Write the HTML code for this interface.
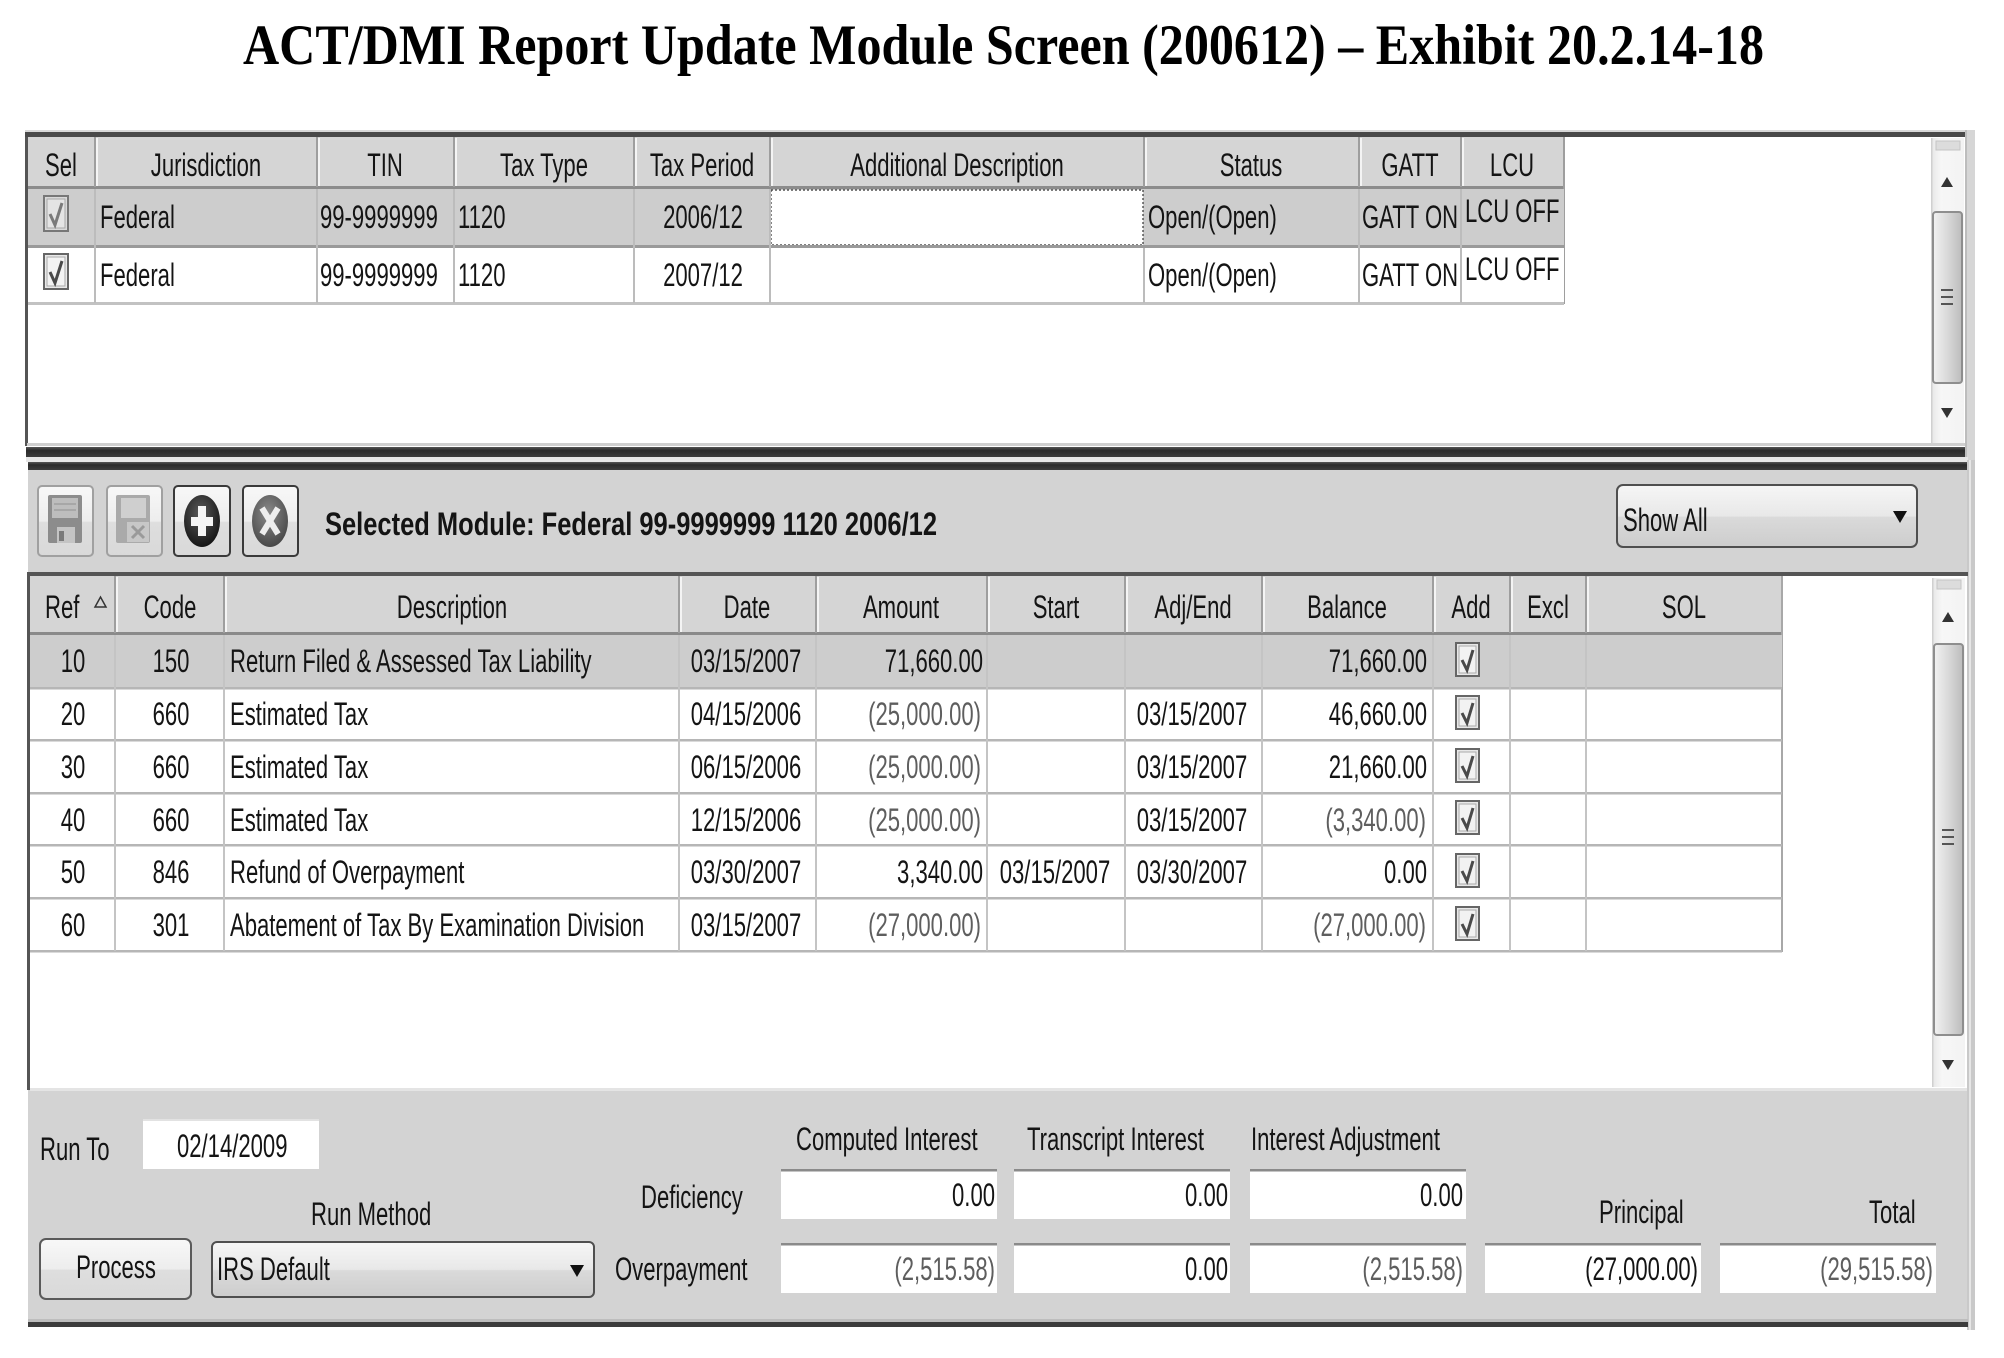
<!DOCTYPE html>
<html>
<head>
<meta charset="utf-8">
<style>
  html,body{margin:0;padding:0;background:#ffffff;}
  body{width:2004px;height:1358px;overflow:hidden;}
  svg{display:block;}
  .t{font-family:"Liberation Sans",Arial,sans-serif;font-size:32px;fill:#141414;}
  .m{text-anchor:middle;}
  .e{text-anchor:end;}
  .g{fill:#5e5e5e;}
  .b{font-weight:bold;}
  .ttl{font-family:"Liberation Serif","Times New Roman",serif;font-size:57px;font-weight:bold;fill:#000;}
</style>
</head>
<body>
<svg width="2004" height="1358" viewBox="0 0 2004 1358" xmlns="http://www.w3.org/2000/svg">
  <defs>
    <linearGradient id="btnG" x1="0" y1="0" x2="0" y2="1">
      <stop offset="0" stop-color="#f8f8f8"/>
      <stop offset="0.5" stop-color="#ededed"/>
      <stop offset="0.52" stop-color="#dedede"/>
      <stop offset="1" stop-color="#d9d9d9"/>
    </linearGradient>
    <linearGradient id="ddG" x1="0" y1="0" x2="0" y2="1">
      <stop offset="0" stop-color="#f6f6f6"/>
      <stop offset="0.5" stop-color="#e8e8e8"/>
      <stop offset="0.52" stop-color="#dadada"/>
      <stop offset="1" stop-color="#cdcdcd"/>
    </linearGradient>
    <linearGradient id="bandG" x1="0" y1="0" x2="0" y2="1">
      <stop offset="0" stop-color="#555"/>
      <stop offset="0.35" stop-color="#2a2a2a"/>
      <stop offset="1" stop-color="#3c3c3c"/>
    </linearGradient>
    <linearGradient id="thumbG" x1="0" y1="0" x2="1" y2="0">
      <stop offset="0" stop-color="#f2f2f2"/>
      <stop offset="0.5" stop-color="#d9d9d9"/>
      <stop offset="1" stop-color="#bcbcbc"/>
    </linearGradient>
    <linearGradient id="trackG" x1="0" y1="0" x2="1" y2="0">
      <stop offset="0" stop-color="#e6e6e6"/>
      <stop offset="0.3" stop-color="#f7f7f7"/>
      <stop offset="1" stop-color="#f3f3f3"/>
    </linearGradient>
    <radialGradient id="darkOval" cx="0.45" cy="0.35" r="0.7">
      <stop offset="0" stop-color="#5a5a5a"/>
      <stop offset="1" stop-color="#111"/>
    </radialGradient>
    <radialGradient id="grayOval" cx="0.45" cy="0.35" r="0.7">
      <stop offset="0" stop-color="#8a8a8a"/>
      <stop offset="1" stop-color="#444"/>
    </radialGradient>
  </defs>

  <!-- ================= TITLE ================= -->
  <text class="ttl" x="243" y="64" textLength="1521" lengthAdjust="spacingAndGlyphs">ACT/DMI Report Update Module Screen (200612) – Exhibit 20.2.14-18</text>

  <!-- ================= TOP PANEL ================= -->
  <rect x="25" y="130" width="1950" height="2" fill="#d8d8d8"/>
  <rect x="25" y="132" width="1942" height="5" fill="#4a4a4a"/>
  <rect x="25" y="137" width="3" height="309" fill="#555"/>
  <rect x="28" y="137" width="1936" height="306" fill="#ffffff"/>
  <!-- right frame strip -->
  <rect x="1965" y="130" width="10" height="332" fill="#d6d6d6"/>
  <rect x="1965" y="130" width="2" height="332" fill="#bdbdbd"/>

  <!-- header -->
  <rect x="28" y="137" width="1536" height="50" fill="#d5d5d5"/>
  <rect x="28" y="186" width="1536" height="3" fill="#8c8c8c"/>
  <g stroke-width="2">
    <line x1="95" y1="137" x2="95" y2="187" stroke="#9e9e9e"/>
    <line x1="97" y1="138" x2="97" y2="186" stroke="#f4f4f4"/>
    <line x1="317" y1="137" x2="317" y2="187" stroke="#9e9e9e"/>
    <line x1="319" y1="138" x2="319" y2="186" stroke="#f4f4f4"/>
    <line x1="454" y1="137" x2="454" y2="187" stroke="#9e9e9e"/>
    <line x1="456" y1="138" x2="456" y2="186" stroke="#f4f4f4"/>
    <line x1="634" y1="137" x2="634" y2="187" stroke="#9e9e9e"/>
    <line x1="636" y1="138" x2="636" y2="186" stroke="#f4f4f4"/>
    <line x1="770" y1="137" x2="770" y2="187" stroke="#9e9e9e"/>
    <line x1="772" y1="138" x2="772" y2="186" stroke="#f4f4f4"/>
    <line x1="1144" y1="137" x2="1144" y2="187" stroke="#9e9e9e"/>
    <line x1="1146" y1="138" x2="1146" y2="186" stroke="#f4f4f4"/>
    <line x1="1359" y1="137" x2="1359" y2="187" stroke="#9e9e9e"/>
    <line x1="1361" y1="138" x2="1361" y2="186" stroke="#f4f4f4"/>
    <line x1="1461" y1="137" x2="1461" y2="187" stroke="#9e9e9e"/>
    <line x1="1463" y1="138" x2="1463" y2="186" stroke="#f4f4f4"/>
    <line x1="1564" y1="137" x2="1564" y2="304" stroke="#9e9e9e"/>
  </g>
  <g class="t m">
    <text class="t m" transform="translate(61 176) scale(.69 1)">Sel</text>
    <text class="t m" transform="translate(206 176) scale(.69 1)">Jurisdiction</text>
    <text class="t m" transform="translate(385 176) scale(.69 1)">TIN</text>
    <text class="t m" transform="translate(544 176) scale(.69 1)">Tax Type</text>
    <text class="t m" transform="translate(702 176) scale(.69 1)">Tax Period</text>
    <text class="t m" transform="translate(957 176) scale(.69 1)">Additional Description</text>
    <text class="t m" transform="translate(1251 176) scale(.69 1)">Status</text>
    <text class="t m" transform="translate(1410 176) scale(.69 1)">GATT</text>
    <text class="t m" transform="translate(1512 176) scale(.69 1)">LCU</text>
  </g>

  <!-- row 1 (selected) -->
  <rect x="28" y="189" width="1536" height="57" fill="#cdcdcd"/>
  <rect x="771" y="190" width="372" height="55" fill="#ffffff" stroke="#333" stroke-width="1.2" stroke-dasharray="2 2"/>
  <rect x="28" y="245" width="1536" height="3" fill="#9a9a9a"/>
  <!-- row 2 -->
  <rect x="28" y="248" width="1536" height="55" fill="#ffffff"/>
  <rect x="28" y="302" width="1536" height="3" fill="#c2c2c2"/>
  <g stroke="#bcbcbc" stroke-width="2">
    <line x1="95" y1="189" x2="95" y2="303"/>
    <line x1="317" y1="189" x2="317" y2="303"/>
    <line x1="454" y1="189" x2="454" y2="303"/>
    <line x1="634" y1="189" x2="634" y2="303"/>
    <line x1="770" y1="189" x2="770" y2="303"/>
    <line x1="1144" y1="248" x2="1144" y2="303"/>
    <line x1="1359" y1="189" x2="1359" y2="303"/>
    <line x1="1461" y1="189" x2="1461" y2="303"/>
  </g>
  <!-- checkboxes top -->
  <g>
    <rect x="44" y="196" width="24" height="35" fill="#d9d9d9" stroke="#777" stroke-width="2"/>
    <rect x="47" y="199" width="18" height="29" fill="#e4e4e4" stroke="#a8a8a8" stroke-width="1"/>
    <path d="M50 214 L55 225 L62 203" stroke="#7a7a7a" stroke-width="3" fill="none"/>
    <rect x="44" y="254" width="24" height="35" fill="#e9e9e9" stroke="#666" stroke-width="2"/>
    <rect x="47" y="257" width="18" height="29" fill="#f3f3f3" stroke="#aaa" stroke-width="1"/>
    <path d="M50 272 L55 283 L62 261" stroke="#4a4a4a" stroke-width="3" fill="none"/>
  </g>
  <text class="t" transform="translate(100 228) scale(.69 1)">Federal</text>
  <text class="t" transform="translate(320 228) scale(.69 1)">99-9999999</text>
  <text class="t" transform="translate(458 228) scale(.69 1)">1120</text>
  <text class="t m" transform="translate(703 228) scale(.69 1)">2006/12</text>
  <text class="t" transform="translate(1148 228) scale(.69 1)">Open/(Open)</text>
  <text class="t" transform="translate(1362 228) scale(.69 1)">GATT ON</text>
  <text class="t" transform="translate(1465 222) scale(.69 1)">LCU OFF</text>

  <text class="t" transform="translate(100 286) scale(.69 1)">Federal</text>
  <text class="t" transform="translate(320 286) scale(.69 1)">99-9999999</text>
  <text class="t" transform="translate(458 286) scale(.69 1)">1120</text>
  <text class="t m" transform="translate(703 286) scale(.69 1)">2007/12</text>
  <text class="t" transform="translate(1148 286) scale(.69 1)">Open/(Open)</text>
  <text class="t" transform="translate(1362 286) scale(.69 1)">GATT ON</text>
  <text class="t" transform="translate(1465 280) scale(.69 1)">LCU OFF</text>

  <!-- top scrollbar -->
  <rect x="1931" y="138" width="33" height="305" fill="url(#trackG)"/>
  <rect x="1931" y="138" width="1.5" height="305" fill="#d0d0d0"/>
  <rect x="1936" y="141" width="24" height="9" fill="#dcdcdc" stroke="#c4c4c4" stroke-width="1"/>
  <polygon points="1941,187 1953,187 1947,177" fill="#333"/>
  <rect x="1933" y="212" width="29" height="171" rx="3" fill="url(#thumbG)" stroke="#8e8e8e" stroke-width="2"/>
  <g stroke="#555" stroke-width="2">
    <line x1="1941" y1="290" x2="1953" y2="290"/>
    <line x1="1941" y1="297" x2="1953" y2="297"/>
    <line x1="1941" y1="304" x2="1953" y2="304"/>
  </g>
  <polygon points="1941,408 1953,408 1947,418" fill="#333"/>

  <!-- separator bands -->
  <rect x="27" y="443" width="1938" height="3" fill="#cfcfcf"/>
  <rect x="26" y="447" width="1939" height="10" fill="url(#bandG)"/>
  <rect x="26" y="457" width="1942" height="5" fill="#e6e6e6"/>
  <rect x="28" y="462" width="1940" height="8" fill="url(#bandG)"/>

  <!-- ================= BOTTOM PANEL ================= -->
  <rect x="28" y="470" width="1940" height="852" fill="#d3d3d3"/>
  <rect x="1967" y="460" width="8" height="870" fill="#c9c9c9"/>
  <rect x="1969" y="460" width="2" height="870" fill="#e6e6e6"/>

  <!-- toolbar buttons -->
  <rect x="38" y="486" width="55" height="70" rx="4" fill="url(#btnG)" stroke="#a0a0a0" stroke-width="2"/>
  <rect x="107" y="486" width="55" height="70" rx="4" fill="url(#btnG)" stroke="#a0a0a0" stroke-width="2"/>
  <rect x="174" y="486" width="56" height="70" rx="4" fill="url(#btnG)" stroke="#3a3a3a" stroke-width="2"/>
  <rect x="243" y="486" width="55" height="70" rx="4" fill="url(#btnG)" stroke="#3a3a3a" stroke-width="2"/>
  <!-- floppy icon -->
  <rect x="48" y="495" width="34" height="48" rx="2" fill="#8c8c8c"/>
  <rect x="52" y="498" width="26" height="20" fill="#bdbdbd"/>
  <line x1="54" y1="504" x2="76" y2="504" stroke="#a0a0a0" stroke-width="1.5"/>
  <line x1="54" y1="510" x2="76" y2="510" stroke="#a0a0a0" stroke-width="1.5"/>
  <rect x="57" y="527" width="18" height="16" fill="#c4c4c4"/>
  <rect x="59" y="531" width="5" height="10" fill="#7a7a7a"/>
  <!-- floppy with x (disabled) -->
  <rect x="116" y="495" width="34" height="48" rx="2" fill="#aaaaaa"/>
  <rect x="121" y="498" width="25" height="20" fill="#cfcfcf"/>
  <rect x="127" y="522" width="22" height="20" fill="#c7c7c7"/>
  <path d="M132 526 L144 538 M144 526 L132 538" stroke="#9a9a9a" stroke-width="3"/>
  <!-- plus oval -->
  <ellipse cx="202" cy="521" rx="18" ry="26" fill="url(#darkOval)"/>
  <rect x="198" y="506" width="8" height="30" fill="#f4f4f4"/>
  <rect x="191" y="517" width="22" height="9" fill="#f4f4f4"/>
  <!-- x oval -->
  <ellipse cx="270" cy="521" rx="18" ry="26" fill="url(#grayOval)"/>
  <path d="M262 508 L278 534 M278 508 L262 534" stroke="#eeeeee" stroke-width="6"/>

  <text class="t b" x="325" y="535" textLength="612" lengthAdjust="spacingAndGlyphs">Selected Module: Federal 99-9999999 1120 2006/12</text>

  <!-- Show All dropdown -->
  <rect x="1617" y="485" width="300" height="62" rx="6" fill="url(#ddG)" stroke="#4f4f4f" stroke-width="2"/>
  <text class="t" transform="translate(1623 531) scale(.69 1)">Show All</text>
  <polygon points="1893,511 1907,511 1900,523" fill="#111"/>

  <!-- grid -->
  <rect x="28" y="572" width="1940" height="4" fill="#555"/>
  <rect x="27" y="572" width="3" height="518" fill="#555"/>
  <rect x="30" y="576" width="1937" height="512" fill="#ffffff"/>
  <rect x="30" y="1088" width="1937" height="3" fill="#e4e4e4"/>

  <!-- grid header -->
  <rect x="30" y="576" width="1752" height="58" fill="#d5d5d5"/>
  <rect x="30" y="632" width="1752" height="3" fill="#8a8a8a"/>
  <g stroke-width="2">
    <line x1="115" y1="576" x2="115" y2="633" stroke="#9e9e9e"/>
    <line x1="117" y1="577" x2="117" y2="632" stroke="#f4f4f4"/>
    <line x1="224" y1="576" x2="224" y2="633" stroke="#9e9e9e"/>
    <line x1="226" y1="577" x2="226" y2="632" stroke="#f4f4f4"/>
    <line x1="679" y1="576" x2="679" y2="633" stroke="#9e9e9e"/>
    <line x1="681" y1="577" x2="681" y2="632" stroke="#f4f4f4"/>
    <line x1="816" y1="576" x2="816" y2="633" stroke="#9e9e9e"/>
    <line x1="818" y1="577" x2="818" y2="632" stroke="#f4f4f4"/>
    <line x1="987" y1="576" x2="987" y2="633" stroke="#9e9e9e"/>
    <line x1="989" y1="577" x2="989" y2="632" stroke="#f4f4f4"/>
    <line x1="1125" y1="576" x2="1125" y2="633" stroke="#9e9e9e"/>
    <line x1="1127" y1="577" x2="1127" y2="632" stroke="#f4f4f4"/>
    <line x1="1262" y1="576" x2="1262" y2="633" stroke="#9e9e9e"/>
    <line x1="1264" y1="577" x2="1264" y2="632" stroke="#f4f4f4"/>
    <line x1="1433" y1="576" x2="1433" y2="633" stroke="#9e9e9e"/>
    <line x1="1435" y1="577" x2="1435" y2="632" stroke="#f4f4f4"/>
    <line x1="1510" y1="576" x2="1510" y2="633" stroke="#9e9e9e"/>
    <line x1="1512" y1="577" x2="1512" y2="632" stroke="#f4f4f4"/>
    <line x1="1586" y1="576" x2="1586" y2="633" stroke="#9e9e9e"/>
    <line x1="1588" y1="577" x2="1588" y2="632" stroke="#f4f4f4"/>
    <line x1="1782" y1="576" x2="1782" y2="952" stroke="#a8a8a8"/>
  </g>
  <text class="t" transform="translate(45 618) scale(.69 1)">Ref</text>
  <polygon points="95,607 106,607 100.5,597" fill="none" stroke="#333" stroke-width="1.5"/>
  <text class="t m" transform="translate(170 618) scale(.69 1)">Code</text>
  <text class="t m" transform="translate(452 618) scale(.69 1)">Description</text>
  <text class="t m" transform="translate(747 618) scale(.69 1)">Date</text>
  <text class="t m" transform="translate(901 618) scale(.69 1)">Amount</text>
  <text class="t m" transform="translate(1056 618) scale(.69 1)">Start</text>
  <text class="t m" transform="translate(1193 618) scale(.69 1)">Adj/End</text>
  <text class="t m" transform="translate(1347 618) scale(.69 1)">Balance</text>
  <text class="t m" transform="translate(1471 618) scale(.69 1)">Add</text>
  <text class="t m" transform="translate(1548 618) scale(.69 1)">Excl</text>
  <text class="t m" transform="translate(1684 618) scale(.69 1)">SOL</text>

  <!-- grid rows -->
  <rect x="30" y="635" width="1752" height="52" fill="#cdcdcd"/>
  <g fill="#b6b6b6">
    <rect x="30" y="687" width="1752" height="2.5"/>
    <rect x="30" y="739" width="1752" height="2.5"/>
    <rect x="30" y="792" width="1752" height="2.5"/>
    <rect x="30" y="844" width="1752" height="2.5"/>
    <rect x="30" y="897" width="1752" height="2.5"/>
    <rect x="30" y="950" width="1752" height="2.5"/>
  </g>
  <g stroke="#c4c4c4" stroke-width="2">
    <line x1="115" y1="635" x2="115" y2="951"/>
    <line x1="224" y1="635" x2="224" y2="951"/>
    <line x1="679" y1="635" x2="679" y2="951"/>
    <line x1="816" y1="635" x2="816" y2="951"/>
    <line x1="987" y1="635" x2="987" y2="951"/>
    <line x1="1125" y1="635" x2="1125" y2="951"/>
    <line x1="1262" y1="635" x2="1262" y2="951"/>
    <line x1="1433" y1="635" x2="1433" y2="951"/>
    <line x1="1510" y1="635" x2="1510" y2="951"/>
    <line x1="1586" y1="635" x2="1586" y2="951"/>
  </g>

  <!-- row 1 -->
  <text class="t m" transform="translate(73 672) scale(.69 1)">10</text>
  <text class="t m" transform="translate(171 672) scale(.69 1)">150</text>
  <text class="t" transform="translate(230 672) scale(.69 1)">Return Filed &amp; Assessed Tax Liability</text>
  <text class="t m" transform="translate(746 672) scale(.69 1)">03/15/2007</text>
  <text class="t e" transform="translate(983 672) scale(.69 1)">71,660.00</text>
  <text class="t e" transform="translate(1427 672) scale(.69 1)">71,660.00</text>
  <!-- row 2 -->
  <text class="t m" transform="translate(73 725) scale(.69 1)">20</text>
  <text class="t m" transform="translate(171 725) scale(.69 1)">660</text>
  <text class="t" transform="translate(230 725) scale(.69 1)">Estimated Tax</text>
  <text class="t m" transform="translate(746 725) scale(.69 1)">04/15/2006</text>
  <text class="t e g" transform="translate(981 725) scale(.69 1)">(25,000.00)</text>
  <text class="t m" transform="translate(1192 725) scale(.69 1)">03/15/2007</text>
  <text class="t e" transform="translate(1427 725) scale(.69 1)">46,660.00</text>
  <!-- row 3 -->
  <text class="t m" transform="translate(73 778) scale(.69 1)">30</text>
  <text class="t m" transform="translate(171 778) scale(.69 1)">660</text>
  <text class="t" transform="translate(230 778) scale(.69 1)">Estimated Tax</text>
  <text class="t m" transform="translate(746 778) scale(.69 1)">06/15/2006</text>
  <text class="t e g" transform="translate(981 778) scale(.69 1)">(25,000.00)</text>
  <text class="t m" transform="translate(1192 778) scale(.69 1)">03/15/2007</text>
  <text class="t e" transform="translate(1427 778) scale(.69 1)">21,660.00</text>
  <!-- row 4 -->
  <text class="t m" transform="translate(73 831) scale(.69 1)">40</text>
  <text class="t m" transform="translate(171 831) scale(.69 1)">660</text>
  <text class="t" transform="translate(230 831) scale(.69 1)">Estimated Tax</text>
  <text class="t m" transform="translate(746 831) scale(.69 1)">12/15/2006</text>
  <text class="t e g" transform="translate(981 831) scale(.69 1)">(25,000.00)</text>
  <text class="t m" transform="translate(1192 831) scale(.69 1)">03/15/2007</text>
  <text class="t e g" transform="translate(1426 831) scale(.69 1)">(3,340.00)</text>
  <!-- row 5 -->
  <text class="t m" transform="translate(73 883) scale(.69 1)">50</text>
  <text class="t m" transform="translate(171 883) scale(.69 1)">846</text>
  <text class="t" transform="translate(230 883) scale(.69 1)">Refund of Overpayment</text>
  <text class="t m" transform="translate(746 883) scale(.69 1)">03/30/2007</text>
  <text class="t e" transform="translate(983 883) scale(.69 1)">3,340.00</text>
  <text class="t m" transform="translate(1055 883) scale(.69 1)">03/15/2007</text>
  <text class="t m" transform="translate(1192 883) scale(.69 1)">03/30/2007</text>
  <text class="t e" transform="translate(1427 883) scale(.69 1)">0.00</text>
  <!-- row 6 -->
  <text class="t m" transform="translate(73 936) scale(.69 1)">60</text>
  <text class="t m" transform="translate(171 936) scale(.69 1)">301</text>
  <text class="t" transform="translate(230 936) scale(.69 1)">Abatement of Tax By Examination Division</text>
  <text class="t m" transform="translate(746 936) scale(.69 1)">03/15/2007</text>
  <text class="t e g" transform="translate(981 936) scale(.69 1)">(27,000.00)</text>
  <text class="t e g" transform="translate(1426 936) scale(.69 1)">(27,000.00)</text>

  <!-- Add checkboxes -->
  <g>
    <rect x="1456" y="643" width="23" height="33" fill="#e8e8e8" stroke="#666" stroke-width="2"/>
    <rect x="1459" y="646" width="17" height="27" fill="#f2f2f2" stroke="#aaa" stroke-width="1"/>
    <path d="M1462 660 L1467 670 L1473 650" stroke="#4a4a4a" stroke-width="3" fill="none"/>
    <rect x="1456" y="696" width="23" height="33" fill="#e8e8e8" stroke="#666" stroke-width="2"/>
    <rect x="1459" y="699" width="17" height="27" fill="#f2f2f2" stroke="#aaa" stroke-width="1"/>
    <path d="M1462 713 L1467 723 L1473 703" stroke="#4a4a4a" stroke-width="3" fill="none"/>
    <rect x="1456" y="749" width="23" height="33" fill="#e8e8e8" stroke="#666" stroke-width="2"/>
    <rect x="1459" y="752" width="17" height="27" fill="#f2f2f2" stroke="#aaa" stroke-width="1"/>
    <path d="M1462 766 L1467 776 L1473 756" stroke="#4a4a4a" stroke-width="3" fill="none"/>
    <rect x="1456" y="801" width="23" height="33" fill="#e8e8e8" stroke="#666" stroke-width="2"/>
    <rect x="1459" y="804" width="17" height="27" fill="#f2f2f2" stroke="#aaa" stroke-width="1"/>
    <path d="M1462 818 L1467 828 L1473 808" stroke="#4a4a4a" stroke-width="3" fill="none"/>
    <rect x="1456" y="854" width="23" height="33" fill="#e8e8e8" stroke="#666" stroke-width="2"/>
    <rect x="1459" y="857" width="17" height="27" fill="#f2f2f2" stroke="#aaa" stroke-width="1"/>
    <path d="M1462 871 L1467 881 L1473 861" stroke="#4a4a4a" stroke-width="3" fill="none"/>
    <rect x="1456" y="907" width="23" height="33" fill="#e8e8e8" stroke="#666" stroke-width="2"/>
    <rect x="1459" y="910" width="17" height="27" fill="#f2f2f2" stroke="#aaa" stroke-width="1"/>
    <path d="M1462 924 L1467 934 L1473 914" stroke="#4a4a4a" stroke-width="3" fill="none"/>
  </g>

  <!-- grid scrollbar -->
  <rect x="1932" y="578" width="33" height="509" fill="url(#trackG)"/>
  <rect x="1932" y="578" width="1.5" height="509" fill="#d0d0d0"/>
  <rect x="1937" y="580" width="24" height="9" fill="#dcdcdc" stroke="#c4c4c4" stroke-width="1"/>
  <polygon points="1942,622 1954,622 1948,612" fill="#333"/>
  <rect x="1934" y="644" width="29" height="391" rx="3" fill="url(#thumbG)" stroke="#8e8e8e" stroke-width="2"/>
  <g stroke="#555" stroke-width="2">
    <line x1="1942" y1="830" x2="1954" y2="830"/>
    <line x1="1942" y1="837" x2="1954" y2="837"/>
    <line x1="1942" y1="844" x2="1954" y2="844"/>
  </g>
  <polygon points="1942,1060 1954,1060 1948,1070" fill="#333"/>

  <!-- ================= BOTTOM FORM ================= -->
  <text class="t" transform="translate(40 1160) scale(.69 1)">Run To</text>
  <rect x="143" y="1119" width="176" height="50" fill="#ffffff"/>
  <rect x="143" y="1119" width="176" height="2" fill="#e2e2e2"/>
  <text class="t" transform="translate(177 1157) scale(.69 1)">02/14/2009</text>

  <text class="t" transform="translate(796 1150) scale(.69 1)">Computed Interest</text>
  <text class="t" transform="translate(1027 1150) scale(.69 1)">Transcript Interest</text>
  <text class="t" transform="translate(1251 1150) scale(.69 1)">Interest Adjustment</text>

  <text class="t" transform="translate(641 1208) scale(.69 1)">Deficiency</text>
  <text class="t" transform="translate(311 1225) scale(.69 1)">Run Method</text>
  <text class="t" transform="translate(1599 1223) scale(.69 1)">Principal</text>
  <text class="t" transform="translate(1869 1223) scale(.69 1)">Total</text>

  <!-- deficiency boxes -->
  <g>
    <rect x="781" y="1169" width="216" height="50" fill="#ffffff"/>
    <rect x="781" y="1169" width="216" height="2.5" fill="#8a8a8a"/>
    <rect x="1014" y="1169" width="216" height="50" fill="#ffffff"/>
    <rect x="1014" y="1169" width="216" height="2.5" fill="#8a8a8a"/>
    <rect x="1250" y="1169" width="216" height="50" fill="#ffffff"/>
    <rect x="1250" y="1169" width="216" height="2.5" fill="#8a8a8a"/>
  </g>
  <text class="t e" transform="translate(995 1206) scale(.69 1)">0.00</text>
  <text class="t e" transform="translate(1228 1206) scale(.69 1)">0.00</text>
  <text class="t e" transform="translate(1463 1206) scale(.69 1)">0.00</text>

  <!-- Process button -->
  <rect x="40" y="1239" width="151" height="60" rx="6" fill="url(#btnG)" stroke="#5a5a5a" stroke-width="2"/>
  <text class="t m" transform="translate(116 1278) scale(.69 1)">Process</text>

  <!-- IRS Default dropdown -->
  <rect x="212" y="1242" width="382" height="55" rx="5" fill="url(#ddG)" stroke="#4f4f4f" stroke-width="2"/>
  <text class="t" transform="translate(217 1280) scale(.69 1)">IRS Default</text>
  <polygon points="570,1265 584,1265 577,1277" fill="#111"/>

  <text class="t" transform="translate(615 1280) scale(.69 1)">Overpayment</text>

  <!-- overpayment boxes -->
  <g>
    <rect x="781" y="1243" width="216" height="50" fill="#ffffff"/>
    <rect x="781" y="1243" width="216" height="2.5" fill="#8a8a8a"/>
    <rect x="1014" y="1243" width="216" height="50" fill="#ffffff"/>
    <rect x="1014" y="1243" width="216" height="2.5" fill="#8a8a8a"/>
    <rect x="1250" y="1243" width="216" height="50" fill="#ffffff"/>
    <rect x="1250" y="1243" width="216" height="2.5" fill="#8a8a8a"/>
    <rect x="1485" y="1243" width="216" height="50" fill="#ffffff"/>
    <rect x="1485" y="1243" width="216" height="2.5" fill="#8a8a8a"/>
    <rect x="1720" y="1243" width="216" height="50" fill="#ffffff"/>
    <rect x="1720" y="1243" width="216" height="2.5" fill="#8a8a8a"/>
  </g>
  <text class="t e g" transform="translate(995 1280) scale(.69 1)">(2,515.58)</text>
  <text class="t e" transform="translate(1228 1280) scale(.69 1)">0.00</text>
  <text class="t e g" transform="translate(1463 1280) scale(.69 1)">(2,515.58)</text>
  <text class="t e" transform="translate(1698 1280) scale(.69 1)">(27,000.00)</text>
  <text class="t e g" transform="translate(1933 1280) scale(.69 1)">(29,515.58)</text>

  <!-- bottom edge -->
  <rect x="28" y="1319" width="1940" height="3" fill="#bdbdbd"/>
  <rect x="28" y="1322" width="1940" height="5" fill="#3c3c3c"/>
</svg>
</body>
</html>
